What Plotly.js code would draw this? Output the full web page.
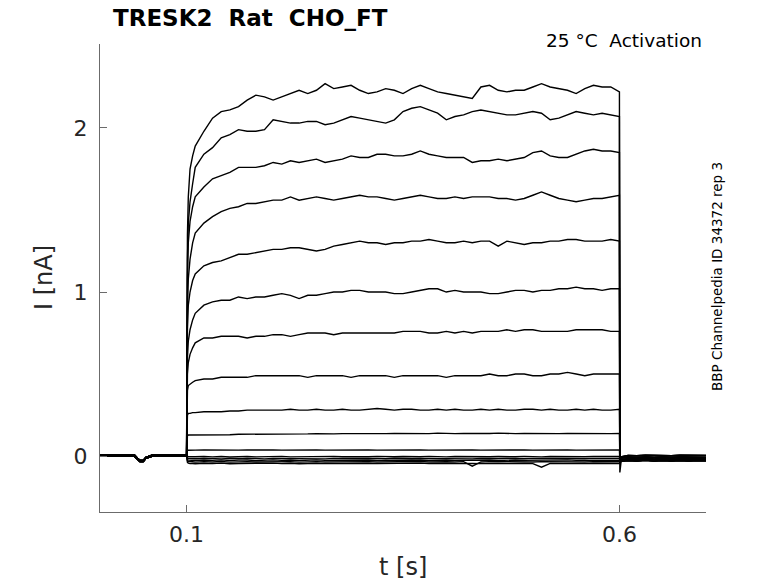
<!DOCTYPE html>
<html>
<head>
<meta charset="utf-8">
<script src="https://cdn.plot.ly/plotly-3.0.1.min.js"></script>
<style>
  html, body { margin: 0; padding: 0; background: #fff; }
  #plot { width: 778px; height: 583px; }
</style>
</head>
<body>
<div id="plot"></div>
<script>
// time bases [s]
var tPre = [0, 0.01, 0.02, 0.03, 0.04, 0.043, 0.046, 0.05, 0.053, 0.06, 0.07, 0.08, 0.09, 0.0995];
var tPulse = [0.1, 0.1005, 0.101, 0.102, 0.104, 0.107,
  0.11, 0.12, 0.13, 0.14, 0.15, 0.16, 0.17, 0.18, 0.19, 0.20,
  0.21, 0.22, 0.23, 0.24, 0.25, 0.26, 0.27, 0.28, 0.29, 0.30,
  0.31, 0.32, 0.33, 0.34, 0.35, 0.36, 0.37, 0.38, 0.39, 0.40,
  0.41, 0.42, 0.43, 0.44, 0.45, 0.46, 0.47, 0.48, 0.49, 0.50,
  0.51, 0.52, 0.53, 0.54, 0.55, 0.56, 0.57, 0.58, 0.59, 0.60];
var tPost = [0.6005, 0.602, 0.61, 0.62, 0.63, 0.64, 0.65, 0.66, 0.67, 0.68, 0.69, 0.70];

// baseline before the step [nA]
var preA = [0.006, 0.005, 0.007, 0.005, 0.006, -0.012, -0.026, -0.027, -0.008, 0.005, 0.006, 0.005, 0.007, 0.006];
var preB = [-0.002, -0.001, -0.003, -0.001, -0.002, -0.018, -0.033, -0.033, -0.014, -0.002, -0.001, -0.003, -0.001, -0.002];

// current during the step, one array per sweep [nA]
var sweep01 = [0.004, 0.95, 1.35, 1.58, 1.75, 1.83,
  1.89, 1.98, 2.06, 2.10, 2.11, 2.13, 2.17, 2.20, 2.19, 2.17,
  2.19, 2.21, 2.23, 2.21, 2.23, 2.27, 2.24, 2.25, 2.26, 2.23,
  2.21, 2.22, 2.24, 2.23, 2.21, 2.24, 2.26, 2.24, 2.22, 2.21,
  2.20, 2.19, 2.18, 2.25, 2.26, 2.23, 2.22, 2.23, 2.23, 2.25,
  2.27, 2.25, 2.24, 2.23, 2.21, 2.24, 2.26, 2.25, 2.25, 2.22];
var sweep02 = [0.004, 0.85, 1.2, 1.42, 1.55, 1.66,
  1.76, 1.84, 1.88, 1.94, 1.96, 1.99, 1.98, 1.98, 1.99, 2.05,
  2.04, 2.03, 2.03, 2.04, 2.04, 2.02, 2.03, 2.05, 2.07, 2.06,
  2.05, 2.04, 2.03, 2.05, 2.10, 2.12, 2.13, 2.11, 2.09, 2.05,
  2.07, 2.08, 2.10, 2.11, 2.10, 2.09, 2.08, 2.08, 2.09, 2.10,
  2.09, 2.05, 2.06, 2.08, 2.10, 2.09, 2.08, 2.09, 2.08, 2.07];
var sweep03 = [0.004, 0.75, 1.08, 1.3, 1.43, 1.52,
  1.58, 1.64, 1.69, 1.71, 1.73, 1.76, 1.76, 1.76, 1.77, 1.79,
  1.78, 1.80, 1.79, 1.80, 1.81, 1.79, 1.80, 1.81, 1.83, 1.82,
  1.82, 1.84, 1.84, 1.83, 1.83, 1.84, 1.86, 1.84, 1.83, 1.82,
  1.82, 1.82, 1.79, 1.80, 1.80, 1.81, 1.80, 1.81, 1.82, 1.85,
  1.86, 1.83, 1.82, 1.82, 1.84, 1.86, 1.87, 1.86, 1.86, 1.85];
var sweep04 = [0.004, 0.6, 0.9, 1.08, 1.2, 1.3,
  1.36, 1.42, 1.46, 1.49, 1.51, 1.52, 1.54, 1.54, 1.55, 1.56,
  1.56, 1.58, 1.56, 1.57, 1.58, 1.57, 1.56, 1.57, 1.58, 1.59,
  1.58, 1.58, 1.57, 1.56, 1.57, 1.58, 1.59, 1.58, 1.57, 1.57,
  1.58, 1.57, 1.58, 1.58, 1.58, 1.57, 1.57, 1.56, 1.57, 1.59,
  1.61, 1.59, 1.57, 1.56, 1.55, 1.56, 1.57, 1.57, 1.58, 1.59];
var sweep05 = [0.004, 0.55, 0.78, 0.92, 1.0, 1.07,
  1.11, 1.16, 1.18, 1.19, 1.21, 1.23, 1.23, 1.24, 1.25, 1.26,
  1.26, 1.27, 1.27, 1.26, 1.25, 1.26, 1.28, 1.29, 1.30, 1.31,
  1.30, 1.30, 1.29, 1.30, 1.30, 1.31, 1.31, 1.32, 1.31, 1.30,
  1.30, 1.31, 1.30, 1.31, 1.31, 1.28, 1.31, 1.30, 1.29, 1.30,
  1.30, 1.31, 1.31, 1.32, 1.32, 1.31, 1.31, 1.31, 1.32, 1.31];
var sweep06 = [0.004, 0.45, 0.6, 0.7, 0.77, 0.83,
  0.87, 0.92, 0.94, 0.95, 0.95, 0.97, 0.96, 0.97, 0.97, 0.98,
  0.99, 0.98, 0.96, 0.98, 0.98, 0.99, 1.00, 1.00, 1.01, 1.01,
  1.00, 1.00, 1.00, 0.99, 0.99, 1.00, 1.01, 1.02, 1.02, 1.00,
  1.01, 1.00, 1.00, 1.00, 0.99, 0.99, 1.00, 1.01, 1.01, 1.00,
  1.01, 1.01, 1.02, 1.02, 1.03, 1.02, 1.02, 1.01, 1.02, 1.02];
var sweep07 = [0.004, 0.35, 0.5, 0.57, 0.62, 0.66,
  0.69, 0.72, 0.72, 0.73, 0.73, 0.73, 0.72, 0.73, 0.73, 0.74,
  0.74, 0.73, 0.74, 0.75, 0.75, 0.75, 0.74, 0.75, 0.75, 0.75,
  0.75, 0.75, 0.75, 0.75, 0.76, 0.76, 0.76, 0.75, 0.75, 0.76,
  0.75, 0.76, 0.75, 0.76, 0.76, 0.76, 0.77, 0.76, 0.77, 0.77,
  0.76, 0.76, 0.76, 0.76, 0.77, 0.77, 0.77, 0.77, 0.76, 0.76];
var sweep08 = [0.004, 0.3, 0.4, 0.43, 0.44, 0.45,
  0.46, 0.47, 0.47, 0.48, 0.48, 0.48, 0.48, 0.49, 0.49, 0.49,
  0.49, 0.49, 0.49, 0.48, 0.49, 0.49, 0.49, 0.49, 0.48, 0.49,
  0.49, 0.49, 0.49, 0.48, 0.49, 0.49, 0.49, 0.49, 0.49, 0.48,
  0.49, 0.49, 0.49, 0.49, 0.50, 0.49, 0.49, 0.50, 0.50, 0.49,
  0.49, 0.50, 0.50, 0.51, 0.50, 0.49, 0.50, 0.50, 0.50, 0.50];
var sweep09 = [0.004, 0.2, 0.25, 0.26, 0.26, 0.265,
  0.265, 0.27, 0.27, 0.27, 0.275, 0.275, 0.28, 0.28, 0.28, 0.28,
  0.28, 0.285, 0.28, 0.28, 0.285, 0.28, 0.28, 0.285, 0.28, 0.28,
  0.285, 0.29, 0.285, 0.28, 0.285, 0.285, 0.28, 0.28, 0.285, 0.28,
  0.285, 0.28, 0.28, 0.285, 0.28, 0.285, 0.28, 0.28, 0.285, 0.285,
  0.28, 0.285, 0.28, 0.28, 0.285, 0.28, 0.285, 0.28, 0.28, 0.285];
var sweep10 = [0.004, 0.11, 0.125, 0.128, 0.128, 0.13,
  0.13, 0.13, 0.13, 0.132, 0.13, 0.133, 0.133, 0.132, 0.135, 0.133,
  0.135, 0.135, 0.133, 0.135, 0.137, 0.135, 0.135, 0.137, 0.135, 0.137,
  0.137, 0.135, 0.137, 0.138, 0.137, 0.137, 0.135, 0.137, 0.14, 0.137,
  0.137, 0.138, 0.137, 0.137, 0.138, 0.14, 0.137, 0.137, 0.138, 0.137,
  0.137, 0.138, 0.137, 0.138, 0.137, 0.137, 0.138, 0.137, 0.137, 0.138];
var sweep11 = [0.004, 0.03, 0.035, 0.035, 0.036, 0.036,
  0.036, 0.037, 0.036, 0.037, 0.037, 0.036, 0.037, 0.038, 0.037, 0.037,
  0.036, 0.037, 0.038, 0.037, 0.037, 0.036, 0.037, 0.037, 0.038, 0.037,
  0.037, 0.036, 0.037, 0.037, 0.038, 0.037, 0.037, 0.036, 0.037, 0.037,
  0.038, 0.037, 0.037, 0.036, 0.037, 0.038, 0.037, 0.037, 0.037, 0.036,
  0.037, 0.038, 0.037, 0.037, 0.036, 0.037, 0.037, 0.038, 0.037, 0.037];
var sweep12 = [0.004, 0.0, -0.003, -0.004, -0.004, -0.005,
  -0.004, -0.002, -0.005, -0.003, -0.006, -0.004, -0.002, -0.005, -0.003, -0.004,
  -0.002, -0.005, -0.004, -0.003, -0.006, -0.004, -0.002, -0.004, -0.005, -0.003,
  -0.004, -0.002, -0.005, -0.004, -0.003, -0.005, -0.004, -0.002, -0.004, -0.005,
  -0.003, -0.004, -0.002, -0.005, -0.004, -0.003, -0.005, -0.004, -0.002, -0.004,
  -0.005, -0.003, -0.004, -0.002, -0.005, -0.004, -0.003, -0.004, -0.005, -0.003];
var sweep13 = [0.004, -0.01, -0.013, -0.015, -0.016, -0.015,
  -0.016, -0.013, -0.015, -0.017, -0.014, -0.016, -0.013, -0.015, -0.017, -0.014,
  -0.015, -0.013, -0.016, -0.014, -0.015, -0.017, -0.014, -0.015, -0.013, -0.016,
  -0.015, -0.014, -0.016, -0.013, -0.015, -0.016, -0.014, -0.015, -0.013, -0.016,
  -0.014, -0.015, -0.017, -0.014, -0.016, -0.015, -0.013, -0.015, -0.016, -0.014,
  -0.015, -0.013, -0.016, -0.014, -0.015, -0.016, -0.014, -0.015, -0.013, -0.015];
var sweep14 = [0.004, -0.018, -0.022, -0.025, -0.026, -0.025,
  -0.027, -0.024, -0.026, -0.023, -0.027, -0.025, -0.024, -0.028, -0.025, -0.023,
  -0.026, -0.024, -0.027, -0.025, -0.023, -0.026, -0.025, -0.024, -0.027, -0.025,
  -0.024, -0.026, -0.025, -0.023, -0.026, -0.025, -0.024, -0.027, -0.025, -0.024,
  -0.026, -0.025, -0.023, -0.026, -0.024, -0.027, -0.025, -0.024, -0.026, -0.025,
  -0.024, -0.026, -0.025, -0.023, -0.026, -0.025, -0.024, -0.026, -0.025, -0.025];
var sweep15 = [0.004, -0.025, -0.03, -0.034, -0.036, -0.035,
  -0.037, -0.034, -0.036, -0.033, -0.037, -0.035, -0.034, -0.036, -0.035, -0.033,
  -0.036, -0.034, -0.037, -0.035, -0.034, -0.036, -0.035, -0.033, -0.036, -0.035,
  -0.034, -0.036, -0.035, -0.034, -0.036, -0.035, -0.033, -0.036, -0.034, -0.035,
  -0.036, -0.034, -0.062, -0.036, -0.034, -0.035, -0.036, -0.034, -0.035, -0.036,
  -0.034, -0.035, -0.036, -0.034, -0.035, -0.036, -0.034, -0.035, -0.036, -0.035];
var sweep16 = [0.004, -0.03, -0.038, -0.043, -0.046, -0.045,
  -0.047, -0.044, -0.046, -0.043, -0.047, -0.045, -0.044, -0.046, -0.045, -0.043,
  -0.046, -0.044, -0.047, -0.045, -0.044, -0.046, -0.045, -0.043, -0.046, -0.045,
  -0.044, -0.046, -0.045, -0.044, -0.046, -0.045, -0.043, -0.046, -0.044, -0.045,
  -0.046, -0.044, -0.045, -0.046, -0.044, -0.045, -0.046, -0.044, -0.045, -0.046,
  -0.068, -0.045, -0.046, -0.044, -0.045, -0.046, -0.044, -0.045, -0.046, -0.045];

// tail after the step [nA]
var postSpike = [-0.10, -0.03, -0.012, -0.015, -0.01, -0.018, -0.012, -0.015, -0.01, -0.016, -0.012, -0.014];
var postA = [-0.03, -0.005, 0.004, 0.002, 0.005, 0.003, 0.004, 0.002, 0.005, 0.003, 0.004, 0.003];
var postB = [-0.03, -0.012, -0.006, -0.008, -0.005, -0.009, -0.006, -0.008, -0.005, -0.007, -0.006, -0.008];
var postC = [-0.035, -0.022, -0.018, -0.02, -0.016, -0.021, -0.018, -0.02, -0.017, -0.02, -0.018, -0.019];
var postD = [-0.04, -0.032, -0.028, -0.03, -0.026, -0.031, -0.027, -0.03, -0.028, -0.03, -0.027, -0.029];

var sweeps = [sweep01, sweep02, sweep03, sweep04, sweep05, sweep06, sweep07, sweep08,
              sweep09, sweep10, sweep11, sweep12, sweep13, sweep14, sweep15, sweep16];
var posts = [postA, postB, postC, postD];

var tAll = tPre.concat(tPulse, tPost);
var traces = [];
for (var i = 0; i < sweeps.length; i++) {
  var pre = (i % 2 == 0) ? preA : preB;
  var post = (i == 0) ? postSpike : posts[i % 4];
  traces.push({
    type: 'scatter',
    mode: 'lines',
    x: tAll,
    y: pre.concat(sweeps[i], post),
    line: {color: '#000', width: 1.4},
    hoverinfo: 'skip'
  });
}

var font = 'DejaVu Sans, Arial, sans-serif';
var axisCol = '#6b6b6b';
var txtCol = '#262626';

var layout = {
  width: 778,
  height: 583,
  margin: {l: 100, r: 72, t: 44, b: 71},
  paper_bgcolor: '#fff',
  plot_bgcolor: '#fff',
  showlegend: false,
  font: {family: font, color: txtCol},
  title: {
    text: '<b>TRESK2 \u00a0Rat \u00a0CHO_FT</b>',
    font: {family: font, size: 23, color: '#000'},
    xref: 'container', x: 113 / 778, xanchor: 'left',
    yref: 'container', y: 1 - 18 / 583, yanchor: 'middle'
  },
  xaxis: {
    range: [0, 0.7],
    tickvals: [0.1, 0.6],
    ticktext: ['0.1', '0.6'],
    ticks: 'inside', ticklen: 7, tickwidth: 1, tickcolor: axisCol,
    showline: true, linecolor: axisCol, linewidth: 1,
    showgrid: false, zeroline: false,
    tickfont: {family: font, size: 22, color: txtCol},
    ticklabelstandoff: 3
  },
  yaxis: {
    range: [-0.341, 2.512],
    tickvals: [0, 1, 2],
    ticktext: ['0', '1', '2'],
    ticks: 'inside', ticklen: 7, tickwidth: 1, tickcolor: axisCol,
    showline: true, linecolor: axisCol, linewidth: 1,
    showgrid: false, zeroline: false,
    tickfont: {family: font, size: 22, color: txtCol},
    ticklabelstandoff: 7
  },
  annotations: [
    {text: 't [s]', xref: 'paper', yref: 'paper', x: 0.5, y: (512 - 567) / 468,
     xanchor: 'center', yanchor: 'middle', showarrow: false,
     font: {family: font, size: 24, color: txtCol}},
    {text: 'I [nA]', xref: 'paper', yref: 'paper', x: (44 - 100) / 606, y: 0.5,
     xanchor: 'center', yanchor: 'middle', textangle: -90, showarrow: false,
     font: {family: font, size: 24, color: txtCol}},
    {text: '25 °C \u00a0Activation', xref: 'paper', yref: 'paper', x: (704 - 100) / 606, y: (512 - 40) / 468,
     xanchor: 'right', yanchor: 'middle', showarrow: false,
     font: {family: font, size: 18.5, color: '#000'}},
    {text: 'BBP Channelpedia ID 34372 rep 3', xref: 'paper', yref: 'paper', x: (717 - 100) / 606, y: (512 - 277) / 468,
     xanchor: 'center', yanchor: 'middle', textangle: -90, showarrow: false,
     font: {family: font, size: 13.5, color: '#000'}}
  ]
};

Plotly.newPlot('plot', traces, layout, {displayModeBar: false, staticPlot: true});
</script>
</body>
</html>
